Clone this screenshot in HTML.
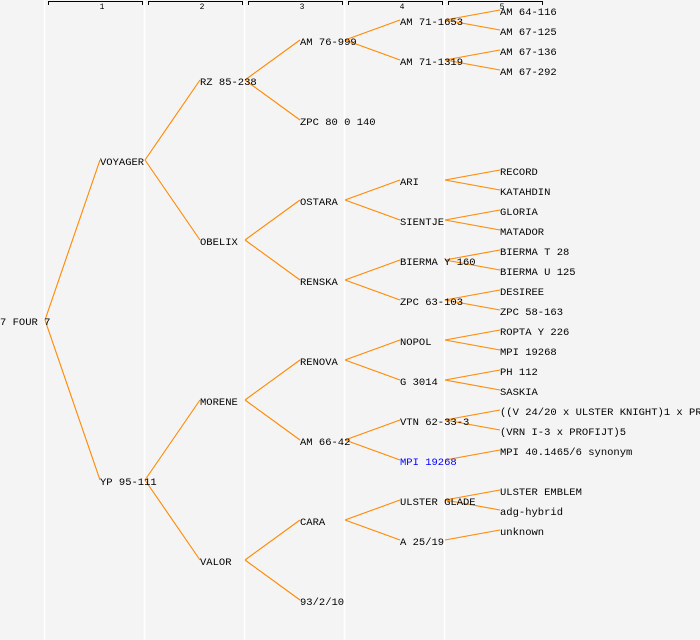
<!DOCTYPE html>
<html><head><meta charset="utf-8"><style>
html,body{margin:0;padding:0;background:#f4f4f4;}
svg{display:block;}
text{font-family:"Liberation Mono","DejaVu Sans Mono",monospace;font-size:10.5px;fill:#000;}
.h{font-size:8px;}
</style></head><body>
<svg width="700" height="640" viewBox="0 0 700 640" xmlns="http://www.w3.org/2000/svg">
<rect width="700" height="640" fill="#f4f4f4"/>
<g stroke="#ffffff" stroke-width="1.5">
<line x1="44.5" y1="0" x2="44.5" y2="640"/><line x1="144.5" y1="0" x2="144.5" y2="640"/>
<line x1="244.5" y1="0" x2="244.5" y2="640"/><line x1="344.5" y1="0" x2="344.5" y2="640"/>
<line x1="444.5" y1="0" x2="444.5" y2="640"/>
</g>
<g stroke="#000" stroke-width="1" fill="none">
<path d="M48.5 5V1.5H142.5V5"/><path d="M148.5 5V1.5H242.5V5"/><path d="M248.5 5V1.5H342.5V5"/>
<path d="M348.5 5V1.5H442.5V5"/><path d="M448.5 5V1.5H542.5V5"/>
</g>
<g text-anchor="middle"><text class="h" x="102" y="9">1</text><text class="h" x="202" y="9">2</text><text class="h" x="302" y="9">3</text><text class="h" x="402" y="9">4</text><text class="h" x="502" y="9">5</text></g>
<g stroke="#ff8800" stroke-width="1.1" fill="none">
<path d="M45 320L100 160M45 320L100 480"/>
<path d="M145 160L200 80M145 160L200 240M145 480L200 400M145 480L200 560"/>
<path d="M245 80L300 40M245 80L300 120M245 240L300 200M245 240L300 280M245 400L300 360M245 400L300 440M245 560L300 520M245 560L300 600"/>
<path d="M345 40L400 20M345 40L400 60M345 200L400 180M345 200L400 220M345 280L400 260M345 280L400 300M345 360L400 340M345 360L400 380M345 440L400 420M345 440L400 460M345 520L400 500M345 520L400 540"/>
<path d="M445 20L500 10M445 20L500 30M445 60L500 50M445 60L500 70M445 180L500 170M445 180L500 190M445 220L500 210M445 220L500 230M445 260L500 250M445 260L500 270M445 300L500 290M445 300L500 310M445 340L500 330M445 340L500 350M445 380L500 370M445 380L500 390M445 420L500 410M445 420L500 430M445 460L500 450M445 500L500 490M445 500L500 510M445 540L500 530"/>
</g>
<g>
<text x="0" y="325">7 FOUR 7</text>
<text x="100" y="165">VOYAGER</text><text x="100" y="485">YP 95-111</text>
<text x="200" y="85">RZ 85-238</text><text x="200" y="245">OBELIX</text><text x="200" y="405">MORENE</text><text x="200" y="565">VALOR</text>
<text x="300" y="45">AM 76-999</text><text x="300" y="125">ZPC 80 0 140</text><text x="300" y="205">OSTARA</text><text x="300" y="285">RENSKA</text><text x="300" y="365">RENOVA</text><text x="300" y="445">AM 66-42</text><text x="300" y="525">CARA</text><text x="300" y="605">93/2/10</text>
<text x="400" y="25">AM 71-1653</text><text x="400" y="65">AM 71-1319</text><text x="400" y="185">ARI</text><text x="400" y="225">SIENTJE</text><text x="400" y="265">BIERMA Y 160</text><text x="400" y="305">ZPC 63-103</text><text x="400" y="345">NOPOL</text><text x="400" y="385">G 3014</text><text x="400" y="425">VTN 62-33-3</text><text x="400" y="465" style="fill:#0000ff">MPI 19268</text><text x="400" y="505">ULSTER GLADE</text><text x="400" y="545">A 25/19</text>
<text x="500" y="15">AM 64-116</text><text x="500" y="35">AM 67-125</text><text x="500" y="55">AM 67-136</text><text x="500" y="75">AM 67-292</text>
<text x="500" y="175">RECORD</text><text x="500" y="195">KATAHDIN</text><text x="500" y="215">GLORIA</text><text x="500" y="235">MATADOR</text>
<text x="500" y="255">BIERMA T 28</text><text x="500" y="275">BIERMA U 125</text><text x="500" y="295">DESIREE</text><text x="500" y="315">ZPC 58-163</text>
<text x="500" y="335">ROPTA Y 226</text><text x="500" y="355">MPI 19268</text><text x="500" y="375">PH 112</text><text x="500" y="395">SASKIA</text>
<text x="500" y="415">((V 24/20 x ULSTER KNIGHT)1 x PROFIJT)</text><text x="500" y="435">(VRN I-3 x PROFIJT)5</text><text x="500" y="455">MPI 40.1465/6 synonym</text>
<text x="500" y="495">ULSTER EMBLEM</text><text x="500" y="515">adg-hybrid</text><text x="500" y="535">unknown</text>
</g>
</svg>
</body></html>
